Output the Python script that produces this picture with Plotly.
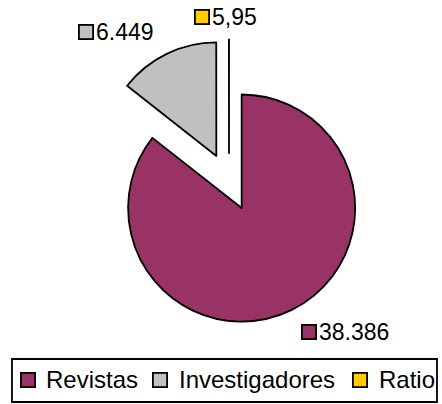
import plotly.graph_objects as go

categories = ["Revistas", "Investigadores", "Ratio"]
values = [38386, 6449, 5.95]
value_labels = ["38.386", "6.449", "5,95"]
colors = ["#993366", "#C0C0C0", "#FFCC00"]

FONT = "Liberation Sans, Arial, sans-serif"


def key_with_text(fig, x, y, text, color, size, gap=0.0195):
    """Excel-style legend key: bordered colour square followed by text."""
    fig.add_annotation(x=x, y=y, xref="paper", yref="paper", text="", showarrow=False,
                       width=12, height=12, bgcolor=color, bordercolor="black", borderwidth=1.8,
                       borderpad=0, xanchor="center", yanchor="middle")
    fig.add_annotation(x=x + gap, y=y, xref="paper", yref="paper", text=text, showarrow=False,
                       xanchor="left", yanchor="middle", borderpad=0,
                       font=dict(size=size, color="black", family=FONT))


fig = go.Figure(go.Pie(
    labels=categories, values=values, sort=False, direction="clockwise", rotation=0,
    marker=dict(colors=colors, line=dict(color="black", width=1.8)),
    pull=[0.255, 0.255, 0.255], textinfo="none", hoverinfo="label+value",
    domain=dict(x=[0.1957, 0.8405], y=[0.1968, 0.9022]),
))

# data labels with legend keys, placed like the original
label_pos = [(0.700, 0.178), (0.1946, 0.921), (0.458, 0.957)]
for (x, y), lab, col in zip(label_pos, value_labels, colors):
    key_with_text(fig, x, y, lab, col, 23)

# boxed legend along the bottom (plotly's own legend spacing is too wide to fit)
fig.add_shape(type="rect", xref="paper", yref="paper", x0=0.0271, x1=0.9887, y0=0.005, y1=0.1114,
              line=dict(color="black", width=1.8), fillcolor="white")
legend_x = [0.0633, 0.3631, 0.8156]
for x, name, col in zip(legend_x, categories, colors):
    key_with_text(fig, x, 0.0606, name, col, 24, gap=0.0385)

fig.update_layout(
    width=442, height=404, margin=dict(l=0, r=0, t=0, b=0),
    paper_bgcolor="white", plot_bgcolor="white",
    font=dict(family=FONT, size=23, color="black"),
    showlegend=False,
)
# drop the browser's default 8px body margin so the figure fills the window
fig.write_html("out.html", config={"displayModeBar": False},
               post_script="document.body.style.margin='0';")
